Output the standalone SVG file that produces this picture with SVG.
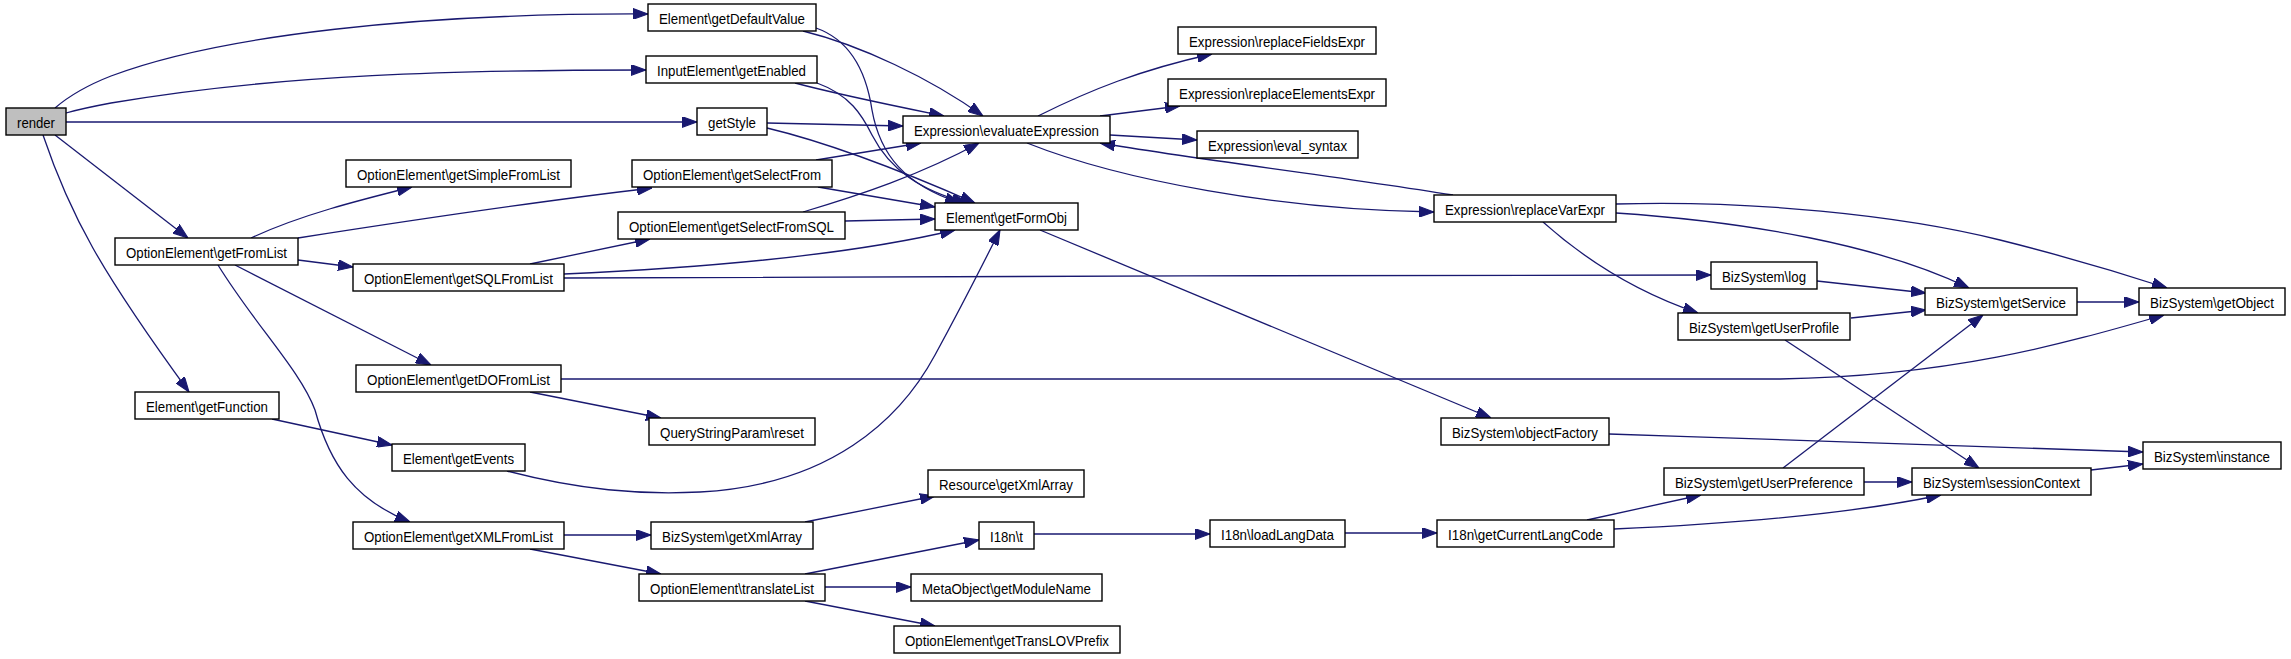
<svg xmlns="http://www.w3.org/2000/svg" width="2291" height="659" viewBox="0 0 2291 659">
<defs>
<style>
.n rect{fill:#fff;stroke:#000;stroke-width:1.4}
.n text{font-family:"Liberation Sans",Arial,sans-serif;font-size:14.3px;text-anchor:middle;fill:#000}
#e path{fill:none;stroke:#191970;stroke-width:1.3;marker-end:url(#a)}
</style>
<marker id="a" viewBox="0 0 14 10" refX="14" refY="5" markerWidth="15" markerHeight="11" orient="auto" markerUnits="userSpaceOnUse">
<path d="M0,0L14,5L0,10z" fill="#191970" stroke="#191970" stroke-width="1"/>
</marker>
</defs>
<rect width="2291" height="659" fill="#fff"/>
<g id="e">
<path d="M55,108 C70,95 88,85 111,76 C220,35 420,13 648,14"/>
<path d="M66,113 C80,109 95,106 111,103 C280,74 460,70 646,70"/>
<path d="M66,122 L697,122"/>
<path d="M55,135 L188,238"/>
<path d="M43,135 C70,215 100,270 189,392"/>
<path d="M803,31 C860,45 930,78 983,116"/>
<path d="M816,28 C850,40 866,70 872,110 C880,155 905,185 960,203"/>
<path d="M795,83 C840,95 890,105 944,116"/>
<path d="M817,83 C850,95 862,115 872,135 C890,170 920,190 967,203"/>
<path d="M767,123 L903,126"/>
<path d="M767,128 C830,143 900,170 975,203"/>
<path d="M816,160 L921,143"/>
<path d="M818,187 L935,207"/>
<path d="M803,212 C860,195 920,175 979,143"/>
<path d="M845,221 L935,219"/>
<path d="M530,264 L650,239"/>
<path d="M564,274 C700,268 850,255 955,230"/>
<path d="M564,278 C800,277 1400,275 1711,275"/>
<path d="M251,238 C300,215 360,200 412,187"/>
<path d="M298,238 C400,222 550,200 652,188"/>
<path d="M298,260 L353,267"/>
<path d="M235,265 L431,365"/>
<path d="M218,265 C255,325 300,370 315,410 C330,465 355,500 410,522"/>
<path d="M530,392 L661,418"/>
<path d="M561,379 L1780,379 C1950,376 2060,345 2164,315"/>
<path d="M272,419 L392,445"/>
<path d="M507,471 C580,490 640,495 700,492 C830,485 900,420 935,355 C965,300 985,260 1000,230"/>
<path d="M564,535 L651,535"/>
<path d="M530,549 L661,574"/>
<path d="M805,522 L935,496"/>
<path d="M805,574 L979,540"/>
<path d="M825,587 L911,587"/>
<path d="M805,601 L935,626"/>
<path d="M1034,534 L1210,534"/>
<path d="M1345,533 L1437,533"/>
<path d="M1587,520 L1701,495"/>
<path d="M1614,529 C1750,523 1860,512 1941,495"/>
<path d="M1783,468 L1983,315"/>
<path d="M1864,482 L1912,482"/>
<path d="M1851,318 L1926,310"/>
<path d="M1785,340 L1979,468"/>
<path d="M1817,281 L1926,293"/>
<path d="M1543,222 C1580,255 1630,290 1698,313"/>
<path d="M1616,213 C1750,222 1880,245 1969,288"/>
<path d="M1616,204 C1750,200 1900,215 2000,240 C2080,260 2130,276 2167,288"/>
<path d="M2077,302 L2139,302"/>
<path d="M2091,470 L2143,464"/>
<path d="M1609,434 C1800,440 2000,448 2143,452"/>
<path d="M1040,230 L1491,418"/>
<path d="M1038,116 C1090,90 1140,70 1212,54"/>
<path d="M1100,116 L1180,106"/>
<path d="M1110,135 L1197,140"/>
<path d="M1027,143 C1120,180 1280,210 1434,212"/>
<path d="M1453,195 C1330,175 1200,160 1100,143"/>
</g>
<g id="render" class="n"><rect x="6" y="108" width="60" height="27" style="fill:#bfbfbf"/><text x="36" y="127.5" textLength="38" lengthAdjust="spacingAndGlyphs">render</text></g>
<g id="getDefaultValue" class="n"><rect x="648" y="4" width="168" height="27"/><text x="732" y="23.5" textLength="146" lengthAdjust="spacingAndGlyphs">Element\getDefaultValue</text></g>
<g id="getEnabled" class="n"><rect x="646" y="56" width="171" height="27"/><text x="731.5" y="75.5" textLength="149" lengthAdjust="spacingAndGlyphs">InputElement\getEnabled</text></g>
<g id="getStyle" class="n"><rect x="697" y="108" width="70" height="27"/><text x="732" y="127.5" textLength="48" lengthAdjust="spacingAndGlyphs">getStyle</text></g>
<g id="evaluateExpression" class="n"><rect x="903" y="116" width="207" height="27"/><text x="1006.5" y="135.5" textLength="185" lengthAdjust="spacingAndGlyphs">Expression\evaluateExpression</text></g>
<g id="getSimpleFromList" class="n"><rect x="346" y="160" width="225" height="27"/><text x="458.5" y="179.5" textLength="203" lengthAdjust="spacingAndGlyphs">OptionElement\getSimpleFromList</text></g>
<g id="getSelectFrom" class="n"><rect x="632" y="160" width="200" height="27"/><text x="732" y="179.5" textLength="178" lengthAdjust="spacingAndGlyphs">OptionElement\getSelectFrom</text></g>
<g id="getFromList" class="n"><rect x="115" y="238" width="183" height="27"/><text x="206.5" y="257.5" textLength="161" lengthAdjust="spacingAndGlyphs">OptionElement\getFromList</text></g>
<g id="getSQLFromList" class="n"><rect x="353" y="264" width="211" height="27"/><text x="458.5" y="283.5" textLength="189" lengthAdjust="spacingAndGlyphs">OptionElement\getSQLFromList</text></g>
<g id="getSelectFromSQL" class="n"><rect x="618" y="212" width="227" height="27"/><text x="731.5" y="231.5" textLength="205" lengthAdjust="spacingAndGlyphs">OptionElement\getSelectFromSQL</text></g>
<g id="getFormObj" class="n"><rect x="935" y="203" width="143" height="27"/><text x="1006.5" y="222.5" textLength="121" lengthAdjust="spacingAndGlyphs">Element\getFormObj</text></g>
<g id="replaceFieldsExpr" class="n"><rect x="1178" y="27" width="198" height="27"/><text x="1277" y="46.5" textLength="176" lengthAdjust="spacingAndGlyphs">Expression\replaceFieldsExpr</text></g>
<g id="replaceElementsExpr" class="n"><rect x="1168" y="79" width="218" height="27"/><text x="1277" y="98.5" textLength="196" lengthAdjust="spacingAndGlyphs">Expression\replaceElementsExpr</text></g>
<g id="eval_syntax" class="n"><rect x="1197" y="131" width="161" height="27"/><text x="1277.5" y="150.5" textLength="139" lengthAdjust="spacingAndGlyphs">Expression\eval_syntax</text></g>
<g id="replaceVarExpr" class="n"><rect x="1434" y="195" width="182" height="27"/><text x="1525" y="214.5" textLength="160" lengthAdjust="spacingAndGlyphs">Expression\replaceVarExpr</text></g>
<g id="log" class="n"><rect x="1711" y="262" width="106" height="27"/><text x="1764" y="281.5" textLength="84" lengthAdjust="spacingAndGlyphs">BizSystem\log</text></g>
<g id="getUserProfile" class="n"><rect x="1678" y="313" width="172" height="27"/><text x="1764" y="332.5" textLength="150" lengthAdjust="spacingAndGlyphs">BizSystem\getUserProfile</text></g>
<g id="getService" class="n"><rect x="1925" y="288" width="152" height="27"/><text x="2001" y="307.5" textLength="130" lengthAdjust="spacingAndGlyphs">BizSystem\getService</text></g>
<g id="getObject" class="n"><rect x="2139" y="288" width="146" height="27"/><text x="2212" y="307.5" textLength="124" lengthAdjust="spacingAndGlyphs">BizSystem\getObject</text></g>
<g id="getDOFromList" class="n"><rect x="356" y="365" width="205" height="27"/><text x="458.5" y="384.5" textLength="183" lengthAdjust="spacingAndGlyphs">OptionElement\getDOFromList</text></g>
<g id="getFunction" class="n"><rect x="135" y="392" width="144" height="27"/><text x="207" y="411.5" textLength="122" lengthAdjust="spacingAndGlyphs">Element\getFunction</text></g>
<g id="getEvents" class="n"><rect x="392" y="444" width="133" height="27"/><text x="458.5" y="463.5" textLength="111" lengthAdjust="spacingAndGlyphs">Element\getEvents</text></g>
<g id="getXMLFromList" class="n"><rect x="353" y="522" width="211" height="27"/><text x="458.5" y="541.5" textLength="189" lengthAdjust="spacingAndGlyphs">OptionElement\getXMLFromList</text></g>
<g id="reset" class="n"><rect x="649" y="418" width="166" height="27"/><text x="732" y="437.5" textLength="144" lengthAdjust="spacingAndGlyphs">QueryStringParam\reset</text></g>
<g id="resourceGetXmlArray" class="n"><rect x="928" y="470" width="156" height="27"/><text x="1006" y="489.5" textLength="134" lengthAdjust="spacingAndGlyphs">Resource\getXmlArray</text></g>
<g id="bizGetXmlArray" class="n"><rect x="651" y="522" width="162" height="27"/><text x="732" y="541.5" textLength="140" lengthAdjust="spacingAndGlyphs">BizSystem\getXmlArray</text></g>
<g id="i18nT" class="n"><rect x="979" y="522" width="55" height="27"/><text x="1006.5" y="541.5" textLength="33" lengthAdjust="spacingAndGlyphs">I18n\t</text></g>
<g id="translateList" class="n"><rect x="639" y="574" width="186" height="27"/><text x="732" y="593.5" textLength="164" lengthAdjust="spacingAndGlyphs">OptionElement\translateList</text></g>
<g id="getModuleName" class="n"><rect x="911" y="574" width="191" height="27"/><text x="1006.5" y="593.5" textLength="169" lengthAdjust="spacingAndGlyphs">MetaObject\getModuleName</text></g>
<g id="getTransLOVPrefix" class="n"><rect x="894" y="626" width="226" height="27"/><text x="1007" y="645.5" textLength="204" lengthAdjust="spacingAndGlyphs">OptionElement\getTransLOVPrefix</text></g>
<g id="objectFactory" class="n"><rect x="1441" y="418" width="168" height="27"/><text x="1525" y="437.5" textLength="146" lengthAdjust="spacingAndGlyphs">BizSystem\objectFactory</text></g>
<g id="getUserPreference" class="n"><rect x="1664" y="468" width="200" height="27"/><text x="1764" y="487.5" textLength="178" lengthAdjust="spacingAndGlyphs">BizSystem\getUserPreference</text></g>
<g id="loadLangData" class="n"><rect x="1210" y="520" width="135" height="27"/><text x="1277.5" y="539.5" textLength="113" lengthAdjust="spacingAndGlyphs">I18n\loadLangData</text></g>
<g id="getCurrentLangCode" class="n"><rect x="1437" y="520" width="177" height="27"/><text x="1525.5" y="539.5" textLength="155" lengthAdjust="spacingAndGlyphs">I18n\getCurrentLangCode</text></g>
<g id="instance" class="n"><rect x="2143" y="442" width="138" height="27"/><text x="2212" y="461.5" textLength="116" lengthAdjust="spacingAndGlyphs">BizSystem\instance</text></g>
<g id="sessionContext" class="n"><rect x="1912" y="468" width="179" height="27"/><text x="2001.5" y="487.5" textLength="157" lengthAdjust="spacingAndGlyphs">BizSystem\sessionContext</text></g>
</svg>
